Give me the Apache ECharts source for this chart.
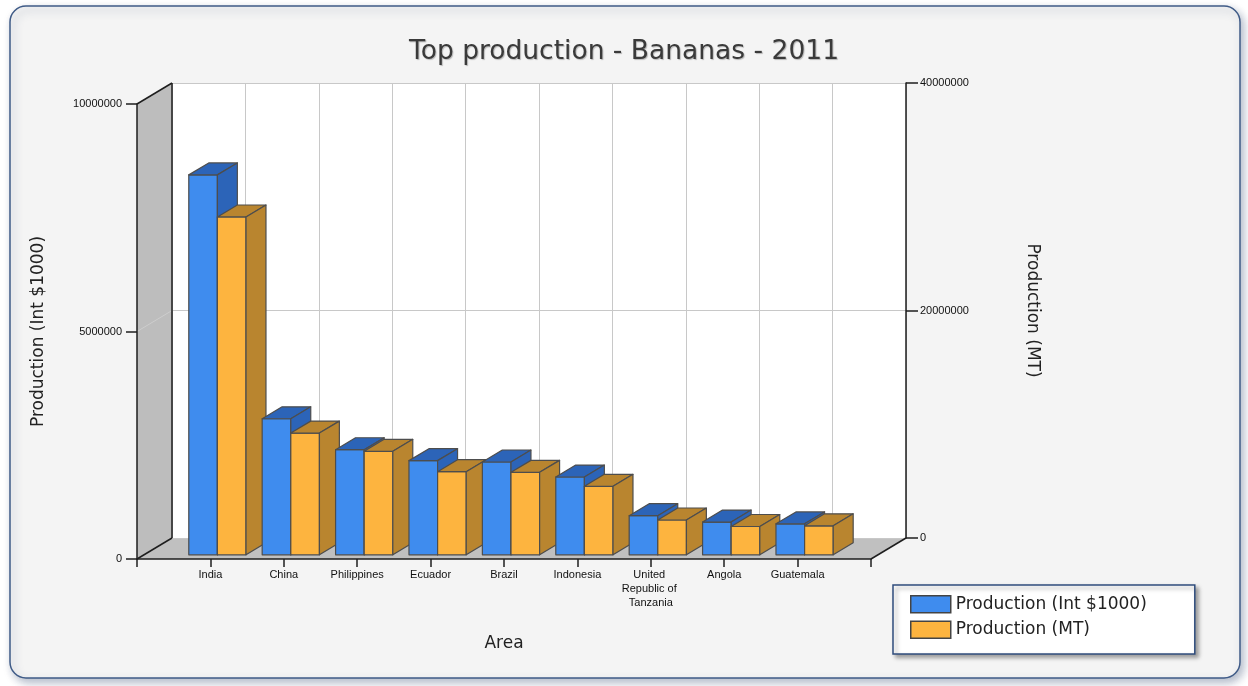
<!DOCTYPE html>
<html>
<head>
<meta charset="utf-8">
<title>Top production - Bananas - 2011</title>
<script src="https://cdn.jsdelivr.net/npm/echarts@6/dist/echarts.min.js"></script>
<style>
  html, body { margin: 0; padding: 0; background: #ffffff; }
  #chart { width: 1248px; height: 686px; }
</style>
</head>
<body>
<div id="chart"></div>
<script>
// ---- data ----
const categories = ['India', 'China', 'Philippines', 'Ecuador', 'Brazil', 'Indonesia',
  'United Republic of Tanzania', 'Angola', 'Guatemala'];
const productionInt = [8350000, 2990000, 2310000, 2070000, 2040000, 1710000, 860000, 720000, 680000];
const productionMT = [29700000, 10700000, 9100000, 7310000, 7250000, 6020000, 3060000, 2490000, 2550000];
const leftTicks = { min: 0, max: 10000000, interval: 5000000 };
const rightTicks = { min: 0, max: 40000000, interval: 20000000 };

// ---- layout of the 3D box ----
const FRONT = { left: 137, top: 104, width: 734, height: 455 };
const DEPTH = { dx: 35, dy: -21 };          // front plane -> back plane
const BAR_FRONT = 0.2;                      // bar front face, fraction of depth
const BAR_DEPTH = 0.57;                     // bar thickness, fraction of depth
const BACK = { left: FRONT.left + DEPTH.dx, top: FRONT.top + DEPTH.dy, width: FRONT.width, height: FRONT.height };

const BLUE = { front: '#3f8cee', dark: '#2c64b8' };
const ORANGE = { front: '#fdb43f', dark: '#b9852f' };
const EDGE = '#4d4d4d';

function box(x0, x1, yTop, yBase, col, z2) {
  const bx = DEPTH.dx * BAR_DEPTH, by = DEPTH.dy * BAR_DEPTH;
  const st = { stroke: EDGE, lineWidth: 1.2, lineJoin: 'round' };
  return [
    { type: 'rect', z2: z2, shape: { x: x0, y: yTop, width: x1 - x0, height: yBase - yTop },
      style: Object.assign({ fill: col.front }, st) },
    { type: 'polygon', z2: z2, shape: { points: [[x0, yTop], [x1, yTop], [x1 + bx, yTop + by], [x0 + bx, yTop + by]] },
      style: Object.assign({ fill: col.dark }, st) },
    { type: 'polygon', z2: z2, shape: { points: [[x1, yTop], [x1 + bx, yTop + by], [x1 + bx, yBase + by], [x1, yBase]] },
      style: Object.assign({ fill: col.dark }, st) }
  ];
}

// a bar is placed from its value on one plane, then shifted to the bars' front face
function makeRender(planeDepth, col, side, zOff) {
  return function (params, api) {
    const x = api.value(0);
    const top = api.coord([x, api.value(1)]);
    const base = api.coord([x, 0]);
    const f = BAR_FRONT - planeDepth;
    const ox = DEPTH.dx * f, oy = DEPTH.dy * f;
    const w = api.size([1, 0])[0] * 0.39;
    const cx = top[0] + ox;
    const x0 = side < 0 ? cx - w : cx;
    const x1 = side < 0 ? cx : cx + w;
    return { type: 'group', children: box(x0, x1, top[1] + oy, base[1] + oy, col, params.dataIndex * 10 + zOff) };
  };
}

const xPos = categories.map((c, i) => i + 1);
const smallFont = { fontFamily: 'Liberation Sans, Arial, sans-serif', fontSize: 11, color: '#111' };
const nameFont = { fontFamily: 'DejaVu Sans, Verdana, sans-serif', fontSize: 17, color: '#222' };
const plain = v => String(v);

// walls and floor of the box
const fl = FRONT.left, ft = FRONT.top, fb = FRONT.top + FRONT.height, fr = FRONT.left + FRONT.width;
const bl = BACK.left, bt = BACK.top, bb = BACK.top + BACK.height, br = BACK.left + BACK.width;
const midF = (ft + fb) / 2, midB = (bt + bb) / 2;
const wallLine = { stroke: '#1e1e1e', lineWidth: 1.5 };

const option = {
  animation: false,
  title: {
    text: 'Top production - Bananas - 2011',
    left: 'center', top: 34,
    textStyle: { fontFamily: 'DejaVu Sans, Verdana, sans-serif', fontSize: 26.5, fontWeight: 'normal', color: '#3a3a3a',
      textShadowColor: 'rgba(0,0,0,0.25)', textShadowOffsetX: 1, textShadowOffsetY: 1, textShadowBlur: 1 }
  },
  legend: {
    orient: 'vertical', left: 893, top: 585,
    padding: [10, 48, 15, 17],
    itemWidth: 40, itemHeight: 17, itemGap: 7,
    backgroundColor: '#ffffff', borderColor: '#2f4c7c', borderWidth: 1.5,
    shadowColor: 'rgba(0,0,0,0.35)', shadowBlur: 4, shadowOffsetX: 3, shadowOffsetY: 3,
    icon: 'rect',
    itemStyle: { borderColor: '#444', borderWidth: 1.5 },
    textStyle: { fontFamily: 'DejaVu Sans, Verdana, sans-serif', fontSize: 17, color: '#222' },
    data: ['Production (Int $1000)', 'Production (MT)']
  },
  graphic: [
    { type: 'rect', z: -20, silent: true, shape: { x: 10, y: 6, width: 1230, height: 672, r: 16 },
      style: { fill: '#f4f4f4', stroke: '#3f5b87', lineWidth: 1.5, shadowBlur: 8, shadowColor: 'rgba(40,60,100,0.35)', shadowOffsetX: 3, shadowOffsetY: 4 } },
    { type: 'rect', z: -10, silent: true, shape: { x: bl, y: bt, width: BACK.width, height: BACK.height }, style: { fill: '#ffffff' } },
    { type: 'polygon', z: -10, silent: true, shape: { points: [[fl, ft], [bl, bt], [bl, bb], [fl, fb]] }, style: { fill: '#bdbdbd' } },
    { type: 'polygon', z: -10, silent: true, shape: { points: [[fl, fb], [fr, fb], [br, bb], [bl, bb]] }, style: { fill: '#c0c0c0' } },
    { type: 'line', z: -9, silent: true, shape: { x1: fl, y1: midF, x2: bl, y2: midB }, style: { stroke: '#cdcdcd', lineWidth: 1 } },
    { type: 'line', z: 1, silent: true, shape: { x1: fl, y1: ft, x2: bl, y2: bt }, style: wallLine },
    { type: 'line', z: 1, silent: true, shape: { x1: bl, y1: bt, x2: bl, y2: bb }, style: wallLine },
    { type: 'line', z: 1, silent: true, shape: { x1: fl, y1: fb, x2: bl, y2: bb }, style: wallLine },
    { type: 'line', z: 1, silent: true, shape: { x1: fr, y1: fb, x2: br, y2: bb }, style: wallLine }
  ],
  grid: [
    { left: FRONT.left, top: FRONT.top, width: FRONT.width, height: FRONT.height },
    { left: BACK.left, top: BACK.top, width: BACK.width, height: BACK.height }
  ],
  xAxis: [
    {
      type: 'value', gridIndex: 0, min: 0, max: 10, interval: 1,
      name: 'Area', nameLocation: 'middle', nameGap: 76, nameTextStyle: nameFont,
      axisLine: { show: true, lineStyle: { color: '#1e1e1e', width: 1.5 } },
      axisTick: { show: true, length: 8, lineStyle: { color: '#1e1e1e', width: 1.5 } },
      splitLine: { show: false },
      axisLabel: Object.assign({
        margin: 9, lineHeight: 14, width: 64, overflow: 'break', showMinLabel: true, showMaxLabel: true,
        formatter: v => categories[v - 1] || ''
      }, smallFont)
    },
    {
      type: 'value', gridIndex: 1, min: 0, max: 10, interval: 1,
      axisLine: { show: false }, axisTick: { show: false }, axisLabel: { show: false },
      splitLine: { show: true, lineStyle: { color: '#c8c8c8', width: 1 } }
    }
  ],
  yAxis: [
    {
      type: 'value', gridIndex: 0, position: 'left',
      min: leftTicks.min, max: leftTicks.max, interval: leftTicks.interval,
      name: 'Production (Int $1000)', nameLocation: 'middle', nameGap: 90, nameRotate: 90, nameTextStyle: nameFont,
      axisLine: { show: true, lineStyle: { color: '#1e1e1e', width: 1.5 } },
      axisTick: { show: true, length: 11, lineStyle: { color: '#1e1e1e', width: 1.5 } },
      splitLine: { show: false },
      axisLabel: Object.assign({ margin: 15, formatter: plain }, smallFont)
    },
    {
      type: 'value', gridIndex: 1, position: 'right',
      min: rightTicks.min, max: rightTicks.max, interval: rightTicks.interval,
      name: 'Production (MT)', nameLocation: 'middle', nameGap: 118, nameRotate: -90, nameTextStyle: nameFont,
      axisLine: { show: true, onZero: false, lineStyle: { color: '#1e1e1e', width: 1.5 } },
      axisTick: { show: true, length: 12, lineStyle: { color: '#1e1e1e', width: 1.5 } },
      splitLine: { show: true, lineStyle: { color: '#c8c8c8', width: 1 } },
      axisLabel: Object.assign({ margin: 14, formatter: plain }, smallFont)
    }
  ],
  series: [
    {
      name: 'Production (Int $1000)', type: 'custom', xAxisIndex: 0, yAxisIndex: 0,
      itemStyle: { color: BLUE.front },
      renderItem: makeRender(0, BLUE, -1, 0),
      data: xPos.map((x, i) => [x, productionInt[i]])
    },
    {
      name: 'Production (MT)', type: 'custom', xAxisIndex: 1, yAxisIndex: 1,
      itemStyle: { color: ORANGE.front },
      renderItem: makeRender(1, ORANGE, 1, 5),
      data: xPos.map((x, i) => [x, productionMT[i]])
    }
  ]
};

const chart = echarts.init(document.getElementById('chart'), null, { renderer: 'canvas' });
chart.setOption(option);
</script>
</body>
</html>
